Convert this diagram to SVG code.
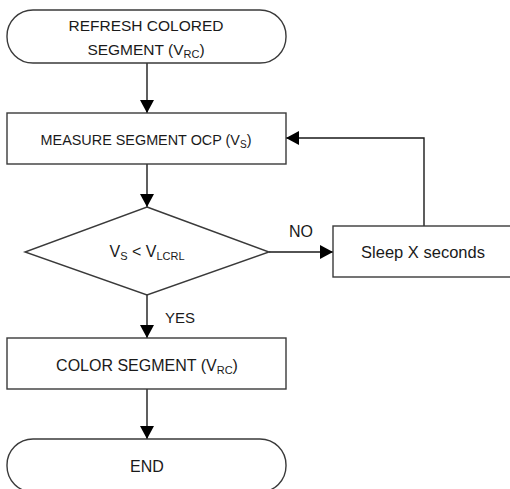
<svg xmlns="http://www.w3.org/2000/svg" width="510" height="489" viewBox="0 0 510 489">
<style>
.shape{fill:#fff;stroke:#3a3a3a;stroke-width:1.4}
.conn{fill:none;stroke:#1a1a1a;stroke-width:1.4}
text{font-family:"Liberation Sans",Arial,sans-serif;fill:#1a1a1a;text-anchor:middle}
</style>
<defs>
<marker id="ah" markerUnits="userSpaceOnUse" markerWidth="13" markerHeight="14" refX="13" refY="7" orient="auto">
<path d="M0,0 L13,7 L0,14 Z" fill="#000"/>
</marker>
</defs>
<rect width="510" height="489" fill="#fff"/>
<g id="connectors">
<line class="conn" x1="147" y1="63" x2="147" y2="113" marker-end="url(#ah)"/>
<line class="conn" x1="147" y1="164" x2="147" y2="207" marker-end="url(#ah)"/>
<line class="conn" x1="269" y1="252" x2="333" y2="252" marker-end="url(#ah)"/>
<polyline class="conn" points="424,226 424,138 286,138" marker-end="url(#ah)"/>
<line class="conn" x1="147" y1="295" x2="147" y2="338" marker-end="url(#ah)"/>
<line class="conn" x1="147" y1="389" x2="147" y2="439" marker-end="url(#ah)"/>
<text x="301" y="237" font-size="16">NO</text>
<text x="180" y="323" font-size="15">YES</text>
</g>
<g id="start">
<rect class="shape" x="7" y="10" width="279" height="53" rx="26" ry="26"/>
<text x="146" y="31" font-size="15.5">REFRESH COLORED</text>
<text x="146" y="55" font-size="15.5">SEGMENT (V<tspan font-size="11" dy="3">RC</tspan><tspan dy="-3">)</tspan></text>
</g>
<g id="measure">
<rect class="shape" x="7" y="113" width="279" height="51"/>
<text x="146" y="145" font-size="14.4">MEASURE SEGMENT OCP (V<tspan font-size="10" dy="3">S</tspan><tspan dy="-3">)</tspan></text>
</g>
<g id="decision">
<polygon class="shape" points="147,207 269,252 147,295 25,252"/>
<text x="147" y="257" font-size="16">V<tspan font-size="11" dy="3">S</tspan><tspan dy="-3"> &lt; V</tspan><tspan font-size="11" dy="3">LCRL</tspan></text>
</g>
<g id="sleep">
<rect class="shape" x="333" y="226" width="185" height="51"/>
<text x="423" y="258" font-size="16.5">Sleep X seconds</text>
</g>
<g id="color">
<rect class="shape" x="7" y="338" width="279" height="51"/>
<text x="147" y="371" font-size="16">COLOR SEGMENT (V<tspan font-size="11" dy="3">RC</tspan><tspan dy="-3">)</tspan></text>
</g>
<g id="end">
<rect class="shape" x="7" y="439" width="279" height="53" rx="26" ry="26"/>
<text x="147" y="472" font-size="16">END</text>
</g>
</svg>
